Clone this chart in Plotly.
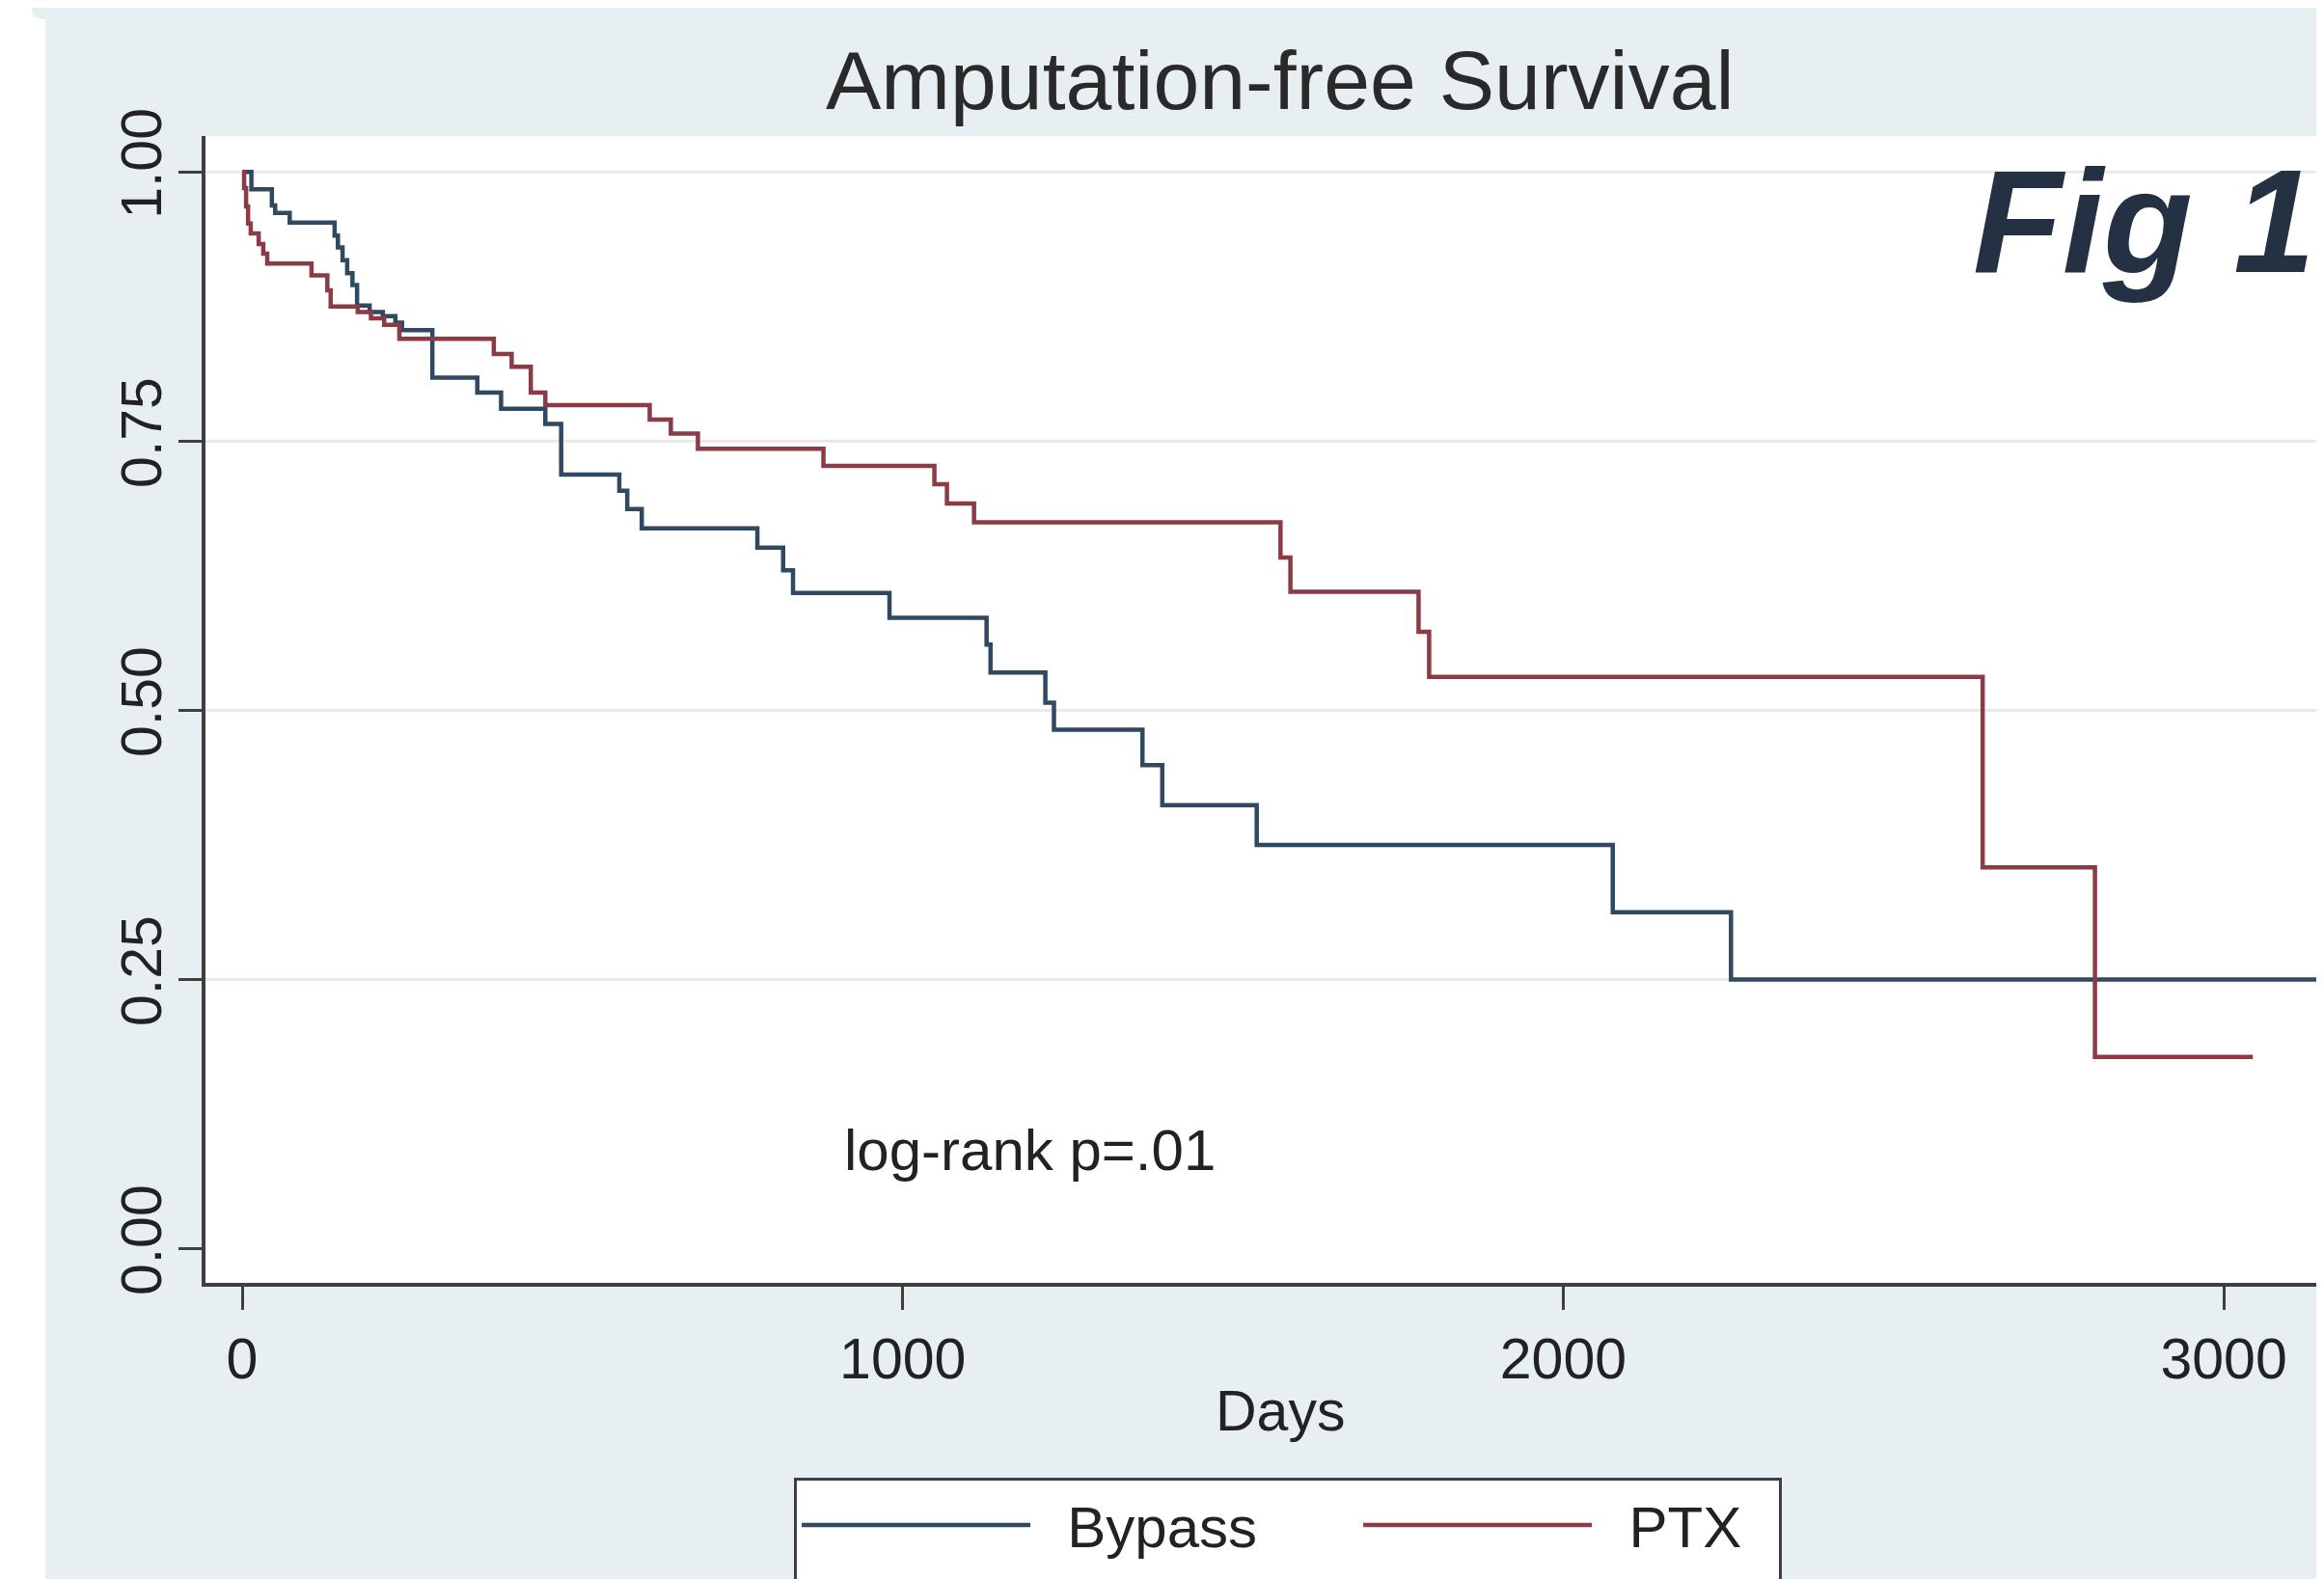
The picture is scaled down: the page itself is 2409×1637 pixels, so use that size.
import plotly.graph_objects as go

# ---------------- data ----------------
bypass_days = [0, 14, 45, 50, 72, 140, 145, 152, 159, 167, 174, 193, 213, 232, 242,
               288, 356, 392, 459, 483, 571, 583, 605, 780, 819, 834, 980, 1127, 1133,
               1216, 1229, 1363, 1393, 1536, 2075, 2254, 3143]
bypass_surv = [1.0, 0.984, 0.969, 0.962, 0.953, 0.941, 0.930, 0.918, 0.906, 0.895, 0.876,
               0.870, 0.866, 0.860, 0.853, 0.809, 0.795, 0.780, 0.766, 0.719, 0.704, 0.687,
               0.669, 0.651, 0.630, 0.609, 0.586, 0.561, 0.535, 0.507, 0.482, 0.449, 0.412,
               0.375, 0.3125, 0.25, 0.25]

ptx_days = [0, 3, 6, 9, 13, 25, 32, 38, 105, 129, 134, 175, 195, 215, 238, 381, 408,
            437, 459, 617, 649, 690, 880, 1048, 1067, 1108, 1572, 1587, 1781, 1797,
            2635, 2805, 3044]
ptx_surv = [1.0, 0.985, 0.968, 0.952, 0.943, 0.933, 0.924, 0.915, 0.904, 0.890, 0.875,
            0.870, 0.864, 0.858, 0.845, 0.831, 0.819, 0.795, 0.7835, 0.770, 0.757, 0.743,
            0.727, 0.710, 0.692, 0.6745, 0.642, 0.610, 0.573, 0.531, 0.354, 0.178, 0.178]

series_names = ["Bypass", "PTX"]
x_tick_vals = [0, 1000, 2000, 3000]
x_tick_text = ["0", "1000", "2000", "3000"]
y_tick_vals = [0, 0.25, 0.5, 0.75, 1.0]
y_tick_text = ["0.00", "0.25", "0.50", "0.75", "1.00"]
grid_vals = [0.25, 0.5, 0.75, 1.0]

title_text = "Amputation-free Survival"
x_title = "Days"
note_text = "log-rank p=.01"
fig_label = "Fig 1"

# ---------------- styling / geometry (page pixels) ----------------
OFF = 8                      # default <body> margin of the written html page
PAGE_W, PAGE_H = 2409, 1637
W, H = PAGE_W - OFF, PAGE_H - OFF
AX_LEFT, AX_BOTTOM, AX_TOP = 213, 1330.5, 141   # page px of plot edges
ML = AX_LEFT - OFF
MT = AX_TOP - OFF
MB = H - (AX_BOTTOM - OFF)
MR = 0
PW = W - ML - MR
PH = H - MT - MB
X0_PX, PX_PER_DAY = 251, 0.6847                 # page px of day 0, scale
Y0_PX, Y1_PX = 1295, 178.3                      # page px of survival 0 and 1

FONT = "Arial, Liberation Sans, Helvetica, sans-serif"
BG = "#e8eff2"
AXIS = "#3f3f3f"
TXT = "#222222"
C_BYPASS = "#2f4a60"
C_PTX = "#8c3b45"


def px_x(X):
    """page px -> paper x"""
    return (X - OFF - ML) / PW


def px_y(Y):
    """page px -> paper y"""
    return (H - MB - (Y - OFF)) / PH


def day_at(X):
    return (X - X0_PX) / PX_PER_DAY


def surv_at(Y):
    return (Y0_PX - Y) / (Y0_PX - Y1_PX)


NB = "\u00a0"
legend_names = [NB * 2 + series_names[0] + NB * 6 + "<br>" + NB,
                NB * 2 + series_names[1] + NB * 2 + "<br>" + NB]

fig = go.Figure()
fig.add_trace(go.Scatter(x=bypass_days, y=bypass_surv, mode="lines", name=legend_names[0],
                         line=dict(color=C_BYPASS, width=4.5, shape="hv")))
fig.add_trace(go.Scatter(x=ptx_days, y=ptx_surv, mode="lines", name=legend_names[1],
                         line=dict(color=C_PTX, width=4.5, shape="hv")))

for g in grid_vals:
    fig.add_hline(y=g, line=dict(color="#e9e9e9", width=3), layer="below")

# white screenshot border on the left / rounded tab at top-left
path = ("M {x0},{y0} L {x1},{y0} L {x1},{y2} Q {x1},{y3} {x2},{y3} L {x3},{y3} "
        "L {x3},{y4} L {x0},{y4} Z").format(
    x0=px_x(0), x1=px_x(33), x2=px_x(45), x3=px_x(47),
    y0=px_y(0), y2=px_y(10), y3=px_y(20), y4=px_y(PAGE_H + 5))
fig.add_shape(type="path", path=path, xref="paper", yref="paper",
              fillcolor="white", line=dict(width=0), layer="below")

fig.update_layout(
    width=W, height=H,
    margin=dict(l=ML, r=MR, t=MT, b=MB, autoexpand=False),
    paper_bgcolor=BG, plot_bgcolor="white",
    font=dict(family=FONT, size=59, color=TXT),
    showlegend=True,
    legend=dict(orientation="h", x=px_x(823), y=px_y(1533), xanchor="left", yanchor="top",
                bgcolor="white", bordercolor=AXIS, borderwidth=3,
                font=dict(size=60, color=TXT), itemwidth=237, valign="top",
                traceorder="normal"),
    xaxis=dict(range=[day_at(AX_LEFT), day_at(PAGE_W)],
               tickvals=x_tick_vals, ticktext=x_tick_text,
               showgrid=False, zeroline=False,
               showline=True, linecolor=AXIS, linewidth=4,
               ticks="outside", ticklen=24, tickwidth=3, tickcolor=AXIS,
               tickfont=dict(size=59, color=TXT)),
    yaxis=dict(range=[surv_at(AX_BOTTOM), surv_at(AX_TOP)],
               tickvals=y_tick_vals, ticktext=y_tick_text, tickangle=-90,
               showgrid=False, zeroline=False,
               showline=True, linecolor=AXIS, linewidth=4,
               ticks="outside", ticklen=24, tickwidth=3, tickcolor=AXIS,
               ticklabelstandoff=-6,
               tickfont=dict(size=59, color=TXT)),
    annotations=[
        dict(text=title_text, x=px_x(1327), y=px_y(83), xref="paper", yref="paper",
             xanchor="center", yanchor="middle", showarrow=False,
             font=dict(size=86, color="#2a2a2a", family=FONT)),
        dict(text="<b><i>" + fig_label + "</i></b>", x=px_x(2222), y=px_y(229),
             xref="paper", yref="paper", xanchor="center", yanchor="middle",
             showarrow=False, font=dict(size=152, color="#243142", family=FONT)),
        dict(text=x_title, x=px_x(1327), y=px_y(1464), xref="paper", yref="paper",
             xanchor="center", yanchor="middle", showarrow=False,
             font=dict(size=59, color=TXT, family=FONT)),
        dict(text=note_text, x=day_at(1067), y=surv_at(1193),
             xref="x", yref="y", xanchor="center", yanchor="middle", showarrow=False,
             font=dict(size=60, color=TXT, family=FONT)),
    ],
)

fig.write_html("out.html")
